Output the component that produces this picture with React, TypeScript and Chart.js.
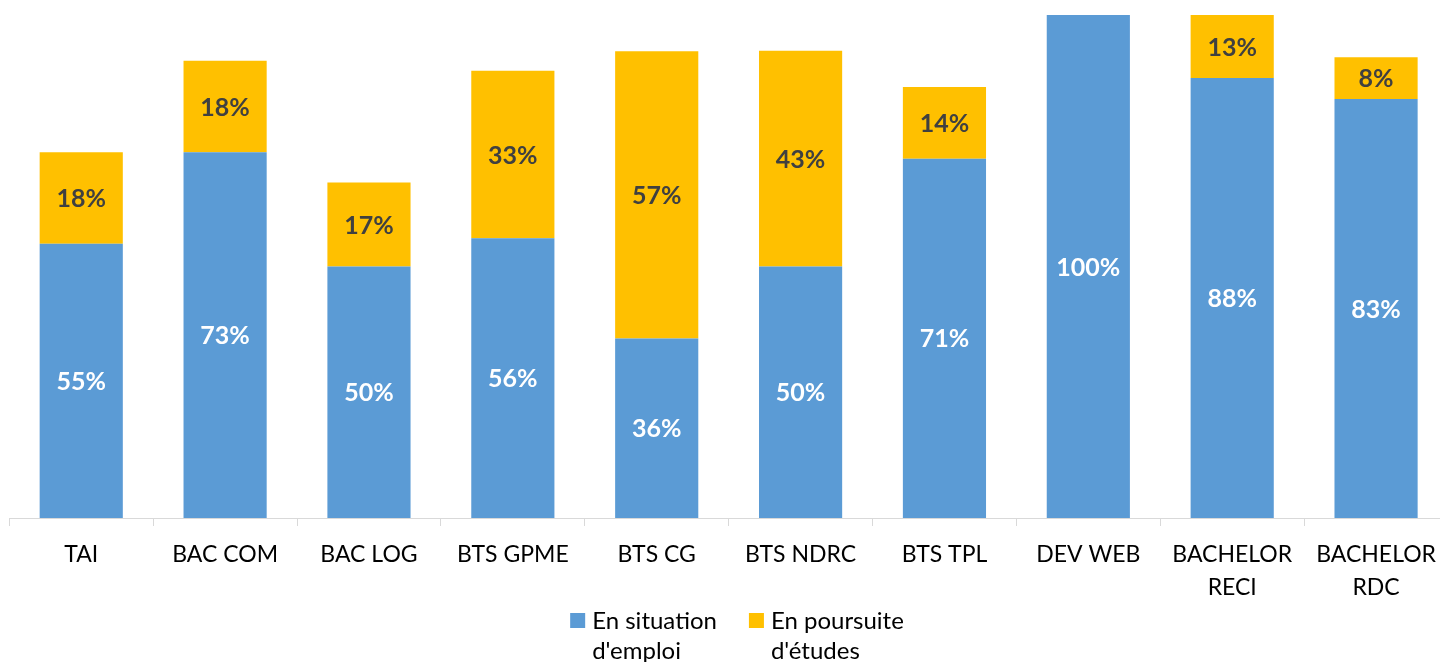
import React, { useEffect, useRef } from "react";
import { Chart, registerables } from "chart.js";

Chart.register(...registerables);

const categories: (string | string[])[] = [
  "TAI",
  "BAC COM",
  "BAC LOG",
  "BTS GPME",
  "BTS CG",
  "BTS NDRC",
  "BTS TPL",
  "DEV WEB",
  ["BACHELOR", "RECI"],
  ["BACHELOR", "RDC"],
];
const emploiValues = [54.5, 72.7, 50, 55.6, 35.7, 50, 71.4, 100, 87.5, 83.3];
const etudesValues = [18.2, 18.2, 16.7, 33.3, 57.1, 42.9, 14.3, 0, 12.5, 8.3];
const emploiLegend = ["En situation", "d'emploi"];
const etudesLegend = ["En poursuite", "d'études"];

const BLUE = "#5B9BD5";
const YELLOW = "#FFC000";
const FONT = "Lato, 'Open Sans', sans-serif";

const dataLabelPlugin = {
  id: "dataLabels",
  afterDatasetsDraw(chart: any) {
    const ctx = chart.ctx;
    ctx.save();
    ctx.font = `bold 25px ${FONT}`;
    ctx.textAlign = "center";
    ctx.textBaseline = "middle";
    chart.data.datasets.forEach((ds: any, di: number) => {
      const meta = chart.getDatasetMeta(di);
      meta.data.forEach((bar: any, i: number) => {
        const v = ds.data[i];
        if (!v) return;
        const y = (bar.y + bar.base) / 2;
        ctx.fillStyle = di === 0 ? "#FFFFFF" : "#404040";
        ctx.fillText(Math.round(v) + "%", bar.x, y + 1);
      });
    });
    ctx.restore();
  },
};

const legendPlugin = {
  id: "multiLineLegend",
  afterDraw(chart: any) {
    const ctx = chart.ctx;
    ctx.save();
    ctx.font = `24px ${FONT}`;
    ctx.textBaseline = "middle";
    ctx.textAlign = "left";
    const box = 15;
    const boxGap = 7;
    const itemGap = 32;
    const items = chart.data.datasets.map((ds: any) => {
      const lines: string[] = ds.legendLines;
      const w = Math.max(...lines.map((l) => ctx.measureText(l).width));
      return { lines, w, color: ds.backgroundColor };
    });
    const total =
      items.reduce((s: number, it: any) => s + box + boxGap + it.w, 0) +
      itemGap * (items.length - 1);
    const centerX = 729;
    let x = centerX - total / 2;
    const y1 = chart.height - 41;
    const lh = 30;
    items.forEach((it: any) => {
      ctx.fillStyle = it.color;
      ctx.fillRect(x, y1 - 8, box, box);
      ctx.fillStyle = "#000000";
      it.lines.forEach((l: string, k: number) => {
        ctx.fillText(l, x + box + boxGap, y1 + k * lh);
      });
      x += box + boxGap + it.w + itemGap;
    });
    ctx.restore();
  },
};

export default function App() {
  const canvasRef = useRef<HTMLCanvasElement | null>(null);

  useEffect(() => {
    document.documentElement.style.overflow = "hidden";
    const canvas = canvasRef.current;
    if (!canvas) return;
    const chart = new Chart(canvas, {
      type: "bar",
      data: {
        labels: categories,
        datasets: [
          {
            label: emploiLegend.join(" "),
            legendLines: emploiLegend,
            data: emploiValues,
            backgroundColor: BLUE,
            borderWidth: 0,
            barPercentage: 1,
            categoryPercentage: 0.578,
          } as any,
          {
            label: etudesLegend.join(" "),
            legendLines: etudesLegend,
            data: etudesValues,
            backgroundColor: YELLOW,
            borderWidth: 0,
            barPercentage: 1,
            categoryPercentage: 0.578,
          } as any,
        ],
      },
      options: {
        responsive: false,
        animation: false,
        devicePixelRatio: 1,
        layout: { padding: { top: 7, left: 1.3, right: 2, bottom: 44 } },
        plugins: {
          legend: { display: false },
          tooltip: { enabled: false },
        },
        scales: {
          x: {
            stacked: true,
            grid: {
              display: true,
              drawOnChartArea: false,
              drawTicks: true,
              tickLength: 8,
              color: "#D9D9D9",
              offset: true,
            },
            border: { display: true, color: "#D9D9D9", width: 1 },
            ticks: {
              color: "#000000",
              font: { family: FONT, size: 23, lineHeight: 1.43 },
              padding: 12,
              maxRotation: 0,
              autoSkip: false,
            },
            afterFit(scale: any) {
              scale.height = 100;
            },
          },
          y: {
            stacked: true,
            display: false,
            min: 0,
            max: 100,
          },
        },
      },
      plugins: [dataLabelPlugin, legendPlugin],
    });
    return () => chart.destroy();
  }, []);

  return (
    <div
      style={{
        position: "fixed",
        left: 8,
        top: 8,
        width: 1442,
        height: 654,
      }}
    >
      <canvas
        ref={canvasRef}
        width={1442}
        height={654}
        style={{ display: "block", width: 1442, height: 654 }}
      />
    </div>
  );
}
